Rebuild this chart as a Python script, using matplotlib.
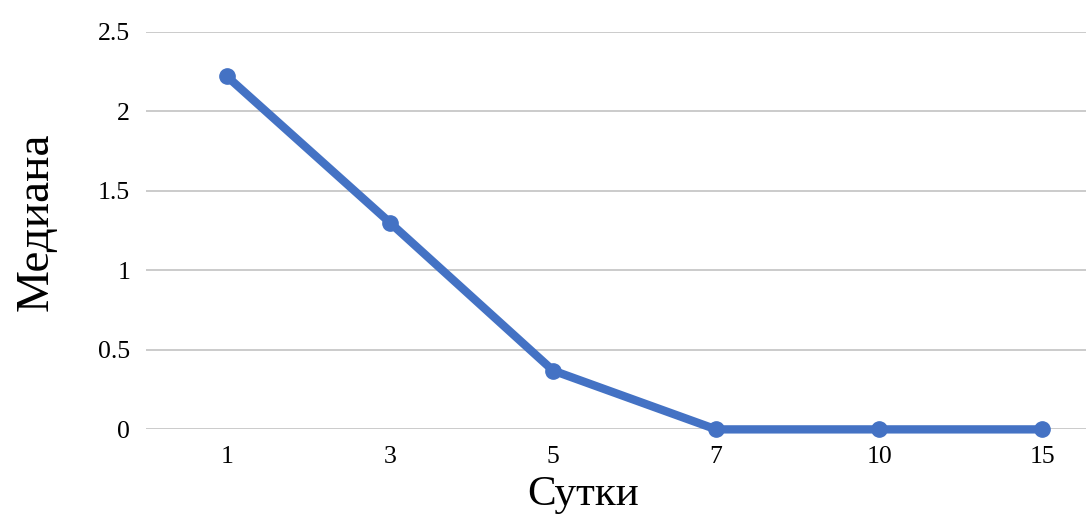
import matplotlib.pyplot as plt

# median by day
days = ["1", "3", "5", "7", "10", "15"]
median = [2.22, 1.30, 0.37, 0.0, 0.0, 0.0]
yticks = [0, 0.5, 1, 1.5, 2, 2.5]
ytick_labels = ["0", "0.5", "1", "1.5", "2", "2.5"]

plt.rcParams['font.family'] = ['Liberation Serif', 'DejaVu Serif']

fig = plt.figure(figsize=(10.86, 5.23), dpi=100)
ax = fig.add_axes([0.134, 0.179, 0.9006, 0.760])   # right side runs past the edge on purpose

x = range(len(days))
ax.plot(x, median, color='#4472C4', linewidth=6, marker='o', markersize=11,
        solid_capstyle='round', clip_on=False, zorder=3)

ax.set_xlim(-0.5, len(days) - 0.5)
ax.set_ylim(0, 2.5)
ax.set_xticks(list(x))
ax.set_xticklabels(days)
ax.set_yticks(yticks)
ax.set_yticklabels(ytick_labels)
ax.tick_params(axis='both', length=0, labelsize=18.5)
ax.tick_params(axis='x', pad=12)
ax.tick_params(axis='y', pad=11)

ax.grid(axis='y', color='#BDBDBD', linewidth=1.1)
ax.set_axisbelow(True)
for s in ax.spines.values():
    s.set_visible(False)

fig.text(583 / 1086, 1 - 495 / 523, "Сутки", fontsize=31, ha='center', va='center')
fig.text(36 / 1086, 1 - 222 / 523, "Медиана", fontsize=34, ha='center', va='center',
         rotation=90)

fig.savefig("out.png", dpi=100)
